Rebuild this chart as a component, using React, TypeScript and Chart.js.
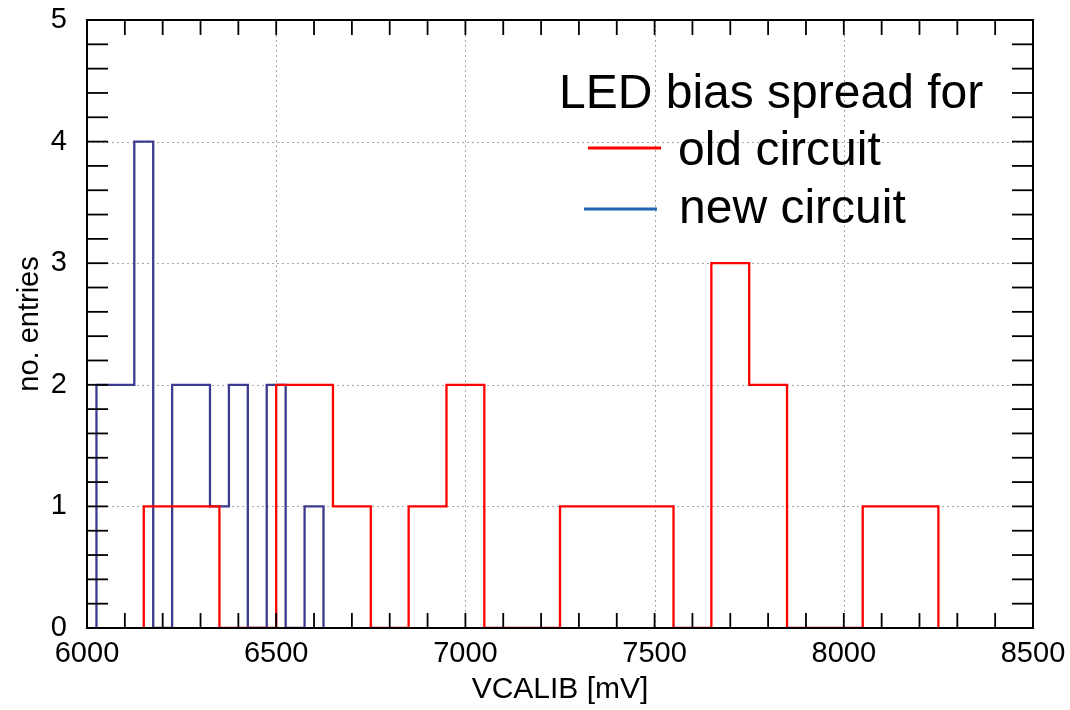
import { useEffect, useRef } from "react";
import { Chart, registerables } from "chart.js";
Chart.register(...registerables);

// Histogram bin edges and counts
const oldEdges = [6150, 6350, 6500, 6650, 6750, 6850, 6950, 7050, 7250, 7550, 7650, 7750, 7850, 8050, 8250];
const oldCounts = [1, 0, 2, 1, 0, 1, 2, 0, 1, 0, 3, 2, 0, 1];
const newEdges = [6025, 6125, 6175, 6225, 6325, 6375, 6425, 6475, 6525, 6575, 6625];
const newCounts = [2, 4, 0, 2, 1, 2, 0, 2, 0, 1];

const legendTitle = "LED bias spread for";
const seriesNames = ["old circuit", "new circuit"];
const xTitle = "VCALIB [mV]";
const yTitle = "no. entries";

const FONT = "'Liberation Sans', Arial, Helvetica, sans-serif";

function stepPoints(edges: number[], counts: number[]) {
  const pts: { x: number; y: number }[] = [{ x: edges[0], y: 0 }];
  counts.forEach((c, i) => pts.push({ x: edges[i], y: c }));
  pts.push({ x: edges[edges.length - 1], y: 0 });
  return pts;
}

const framePlugin = {
  id: "frame",
  beforeDatasetsDraw(chart: any) {
    const { ctx, chartArea: a, scales } = chart;
    const xs = scales.x, ys = scales.y;
    ctx.save();
    ctx.strokeStyle = "#a8a8a8";
    ctx.lineWidth = 1;
    ctx.setLineDash([2, 3]);
    for (let v = 6500; v < 8500; v += 500) {
      const px = Math.round(xs.getPixelForValue(v)) + 0.5;
      ctx.beginPath(); ctx.moveTo(px, a.top); ctx.lineTo(px, a.bottom); ctx.stroke();
    }
    for (let v = 1; v < 5; v += 1) {
      const py = Math.round(ys.getPixelForValue(v)) + 0.5;
      ctx.beginPath(); ctx.moveTo(a.left, py); ctx.lineTo(a.right, py); ctx.stroke();
    }
    ctx.restore();
  },
  afterDatasetsDraw(chart: any) {
    const { ctx, chartArea: a, scales } = chart;
    const xs = scales.x, ys = scales.y;
    ctx.save();
    ctx.strokeStyle = "#000";
    ctx.lineWidth = 1.8;
    for (let i = 0; i <= 25; i++) {
      const py = ys.getPixelForValue(i * 0.2);
      ctx.beginPath(); ctx.moveTo(a.left, py); ctx.lineTo(a.left + 21, py); ctx.stroke();
      ctx.beginPath(); ctx.moveTo(a.right, py); ctx.lineTo(a.right - 21, py); ctx.stroke();
    }
    for (let v = 6000; v <= 8500; v += 100) {
      const px = xs.getPixelForValue(v);
      ctx.beginPath(); ctx.moveTo(px, a.bottom); ctx.lineTo(px, a.bottom - 15); ctx.stroke();
      ctx.beginPath(); ctx.moveTo(px, a.top); ctx.lineTo(px, a.top + 15); ctx.stroke();
    }
    ctx.lineWidth = 2;
    ctx.strokeRect(a.left, a.top, a.right - a.left, a.bottom - a.top);

    // legend
    ctx.fillStyle = "#000";
    ctx.textBaseline = "alphabetic";
    ctx.textAlign = "left";
    ctx.font = `48px ${FONT}`;
    ctx.fillText(legendTitle, 559, 108);
    const ds = chart.data.datasets;
    ctx.lineWidth = 3;
    ctx.strokeStyle = "#ff0000";
    ctx.beginPath(); ctx.moveTo(588, 148); ctx.lineTo(661, 148); ctx.stroke();
    ctx.strokeStyle = "#2166b5";
    ctx.beginPath(); ctx.moveTo(584, 209); ctx.lineTo(657, 209); ctx.stroke();
    ctx.fillText(ds[0].label, 678, 165);
    ctx.fillText(ds[1].label, 679, 223);
    ctx.restore();
  },
};

export default function App() {
  const ref = useRef<HTMLCanvasElement>(null);
  useEffect(() => {
    document.body.style.margin = "0";
    const chart = new Chart(ref.current!, {
      type: "line",
      data: {
        datasets: [
          {
            label: seriesNames[0],
            data: stepPoints(oldEdges, oldCounts),
            borderColor: "#ff0000",
            borderWidth: 2.3,
            stepped: "before",
            pointRadius: 0,
            fill: false,
          },
          {
            label: seriesNames[1],
            data: stepPoints(newEdges, newCounts),
            borderColor: "#3b3b8f",
            borderWidth: 2.3,
            stepped: "before",
            pointRadius: 0,
            fill: false,
          },
        ],
      },
      options: {
        animation: false,
        responsive: false,
        layout: { padding: { left: 0, right: 37, top: 20, bottom: 0 } },
        plugins: { legend: { display: false }, tooltip: { enabled: false } },
        scales: {
          x: {
            type: "linear",
            min: 6000,
            max: 8500,
            afterFit: (s: any) => {
              s.height = 82;
              s.paddingLeft = 0;
              s.paddingRight = 0;
            },
            ticks: {
              stepSize: 500,
              color: "#000",
              font: { family: FONT, size: 29 },
              padding: 9,
              maxRotation: 0,
              callback: (v: any) => String(v),
            },
            grid: { display: false, drawTicks: false },
            border: { display: false },
            title: { display: true, text: xTitle, color: "#000", font: { family: FONT, size: 30 }, padding: { top: 0, bottom: 2 } },
          },
          y: {
            type: "linear",
            min: 0,
            max: 5,
            afterFit: (s: any) => {
              s.width = 87;
              s.paddingTop = 0;
              s.paddingBottom = 0;
            },
            ticks: {
              stepSize: 1,
              color: "#000",
              font: { family: FONT, size: 29 },
              padding: 20,
              callback: (v: any) => String(v),
            },
            grid: { display: false, drawTicks: false },
            border: { display: false },
            title: { display: true, text: yTitle, color: "#000", font: { family: FONT, size: 29 }, padding: { top: 13, bottom: 0 } },
          },
        },
      },
      plugins: [framePlugin],
    });
    return () => chart.destroy();
  }, []);
  return (
    <div style={{ width: 1070, height: 710, background: "#fff" }}>
      <canvas ref={ref} width={1070} height={710} style={{ display: "block" }} />
    </div>
  );
}
